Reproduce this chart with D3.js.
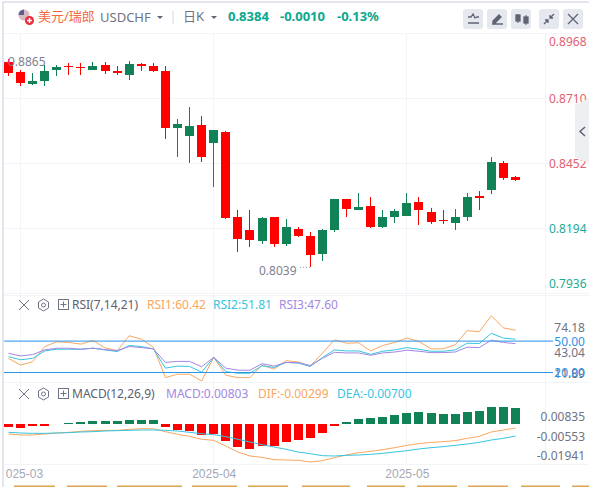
<!DOCTYPE html>
<html>
<head>
<meta charset="utf-8">
<script src="https://cdn.jsdelivr.net/npm/d3@7"></script>
<style>
  html, body { margin: 0; padding: 0; background: #fff; overflow: hidden; }
  svg { display: block; font-family: "Noto Sans", "Noto Sans CJK SC", sans-serif; }
</style>
</head>
<body>
<div class="canvas"></div>
<script>
// candles, all four in price
const open = [.8854,.8814,.8767,.8779,.8822,.8840,.8836,.8822,.8842,.8818,.8802,.8848,.8838,.8818,.8592,.8560,.8604,.8533,.8576,.8239,.8187,.8143,.8239,.8132,.8191,.8163,.8092,.8187,.8310,.8267,.8283,.8199,.8239,.8243,.8298,.8259,.8225,.8215,.8239,.8322,.8346,.8453,.8398];
const high = [.8865,.8822,.8810,.8842,.8842,.8850,.8850,.8854,.8854,.8838,.8858,.8850,.8850,.8838,.8628,.8676,.8640,.8584,.8580,.8267,.8267,.8239,.8239,.8231,.8199,.8179,.8191,.8310,.8310,.8334,.8318,.8267,.8271,.8334,.8318,.8275,.8267,.8271,.8334,.8342,.8477,.8461,.8402];
const low = [.8799,.8759,.8763,.8759,.8799,.8802,.8802,.8822,.8806,.8802,.8783,.8818,.8814,.8548,.8477,.8453,.8457,.8358,.8231,.8100,.8120,.8132,.8120,.8124,.8159,.8039,.8064,.8179,.8239,.8267,.8195,.8195,.8215,.8243,.8207,.8211,.8211,.8187,.8223,.8267,.8330,.8386,.8382];
const close = [.8810,.8771,.8779,.8818,.8834,.8838,.8834,.8838,.8818,.8810,.8846,.8840,.8818,.8592,.8608,.8600,.8477,.8584,.8235,.8151,.8147,.8235,.8132,.8199,.8163,.8088,.8187,.8310,.8271,.8279,.8199,.8239,.8263,.8294,.8267,.8219,.8223,.8239,.8318,.8314,.8457,.8394,.8384];

const rsi1 = [33.5,27.1,30.3,44.8,49.3,48.7,47.1,50.6,43.5,40.9,55.1,51.9,44.2,15.1,18.4,18.4,11.9,34.5,17.4,15.1,15.1,27.1,23.2,31.3,30.0,26.1,38.4,51.3,48.0,48.4,40.6,45.8,48.7,52.9,49.7,42.6,42.6,46.4,60.0,59.0,74.2,62.6,60.4];
const rsi2 = [35.1,32.2,33.5,40.6,42.2,42.2,42.2,43.2,41.6,40.0,45.8,44.8,42.6,24.2,26.1,25.8,20.3,34.5,20.9,19.3,19.3,26.4,24.8,29.6,29.0,25.8,34.2,41.6,40.6,40.6,37.4,40.3,41.6,43.8,42.2,40.3,40.3,41.6,48.0,47.7,57.4,52.9,51.8];
const rsi3 = [38.3,35.8,37.1,41.6,43.2,43.2,42.2,43.2,41.9,40.9,44.8,43.8,42.6,29.6,30.6,30.6,25.5,34.5,24.2,22.2,22.2,28.4,26.1,29.6,29.3,26.7,33.5,39.3,38.7,38.7,36.4,38.7,39.6,41.3,40.3,39.0,39.0,39.6,44.2,43.8,50.9,48.7,47.6];

const macd = [-.00137,-.00205,-.00085,-.00085,.00017,.00034,.0012,.00154,.00137,.00154,.00205,.00205,.00205,-.00137,-.00308,-.00359,-.00547,-.0053,-.00872,-.01179,-.01282,-.01128,-.01128,-.00923,-.00821,-.00718,-.00462,-.00085,.00103,.00256,.00308,.00359,.00462,.00564,.00615,.00564,.00513,.00513,.00615,.00667,.00872,.00872,.00803];
const dif = [-.00513,-.00564,-.00564,-.00513,-.00462,-.00427,-.00376,-.00342,-.00325,-.00325,-.00274,-.00239,-.00239,-.00393,-.0053,-.00632,-.00786,-.00838,-.01128,-.01436,-.01641,-.01709,-.01829,-.01846,-.01863,-.01949,-.0188,-.01726,-.0159,-.0147,-.01402,-.01316,-.01214,-.01094,-.01009,-.0094,-.00906,-.00855,-.00735,-.00632,-.0041,-.00308,-.00205];
const dea = [-.00427,-.00462,-.00479,-.00479,-.00462,-.00444,-.0041,-.00393,-.00359,-.00342,-.00325,-.00308,-.00308,-.00325,-.00359,-.00427,-.00496,-.00547,-.0065,-.00786,-.00923,-.0106,-.01179,-.01299,-.01436,-.01521,-.01624,-.01641,-.01607,-.0159,-.01556,-.01504,-.01436,-.01368,-.01282,-.01214,-.01162,-.01094,-.01026,-.0094,-.00821,-.00735,-.00615];

const priceTicks = [0.8968, 0.8710, 0.8452, 0.8194, 0.7936];
const monthIndex = [1, 17, 33];
const monthLabels = ["2025-03", "2025-04", "2025-05"];
const rsiLevels = [50, 20];

const colors = { up: "#118256", down: "#ff0000", rsi1: "#f9a75f", rsi2: "#35c5e0", rsi3: "#a487e2", grid: "#f3f4f7", text: "#6f7383", level: "#2b93e8" };
const W = 589, H = 487, plotLeft = 4, plotRight = 545;

const svg = d3.select(".canvas").append("svg").attr("width", W).attr("height", H);

const x = d3.scaleLinear().domain([0, 42]).range([8.5, 515.5]);
const yPrice = d3.scaleLinear().domain([0.8452, 0.8194]).range([163.3, 228.3]);
const yRsi = d3.scaleLinear().domain([50, 20]).range([341.1, 372.5]);
const yMacd = d3.scaleLinear().domain([0, -0.01]).range([424, 443.5]);
const snap = (v) => Math.round(v - 0.5) + 0.5;

const defs = svg.append("defs");
defs.append("clipPath").attr("id", "plot")
    .append("rect").attr("x", plotLeft).attr("y", 0).attr("width", plotRight - plotLeft).attr("height", H);
defs.append("clipPath").attr("id", "dates")
    .append("rect").attr("x", 5.5).attr("y", 0).attr("width", plotRight).attr("height", H);

// frame
svg.append("rect").attr("x", 2).attr("y", 1).attr("width", W).attr("height", 2).attr("fill", "#e3e7ed");
svg.append("rect").attr("x", 2).attr("y", 1).attr("width", 2).attr("height", H).attr("fill", "#e3e7ed");

// grid
const grid = svg.append("g").attr("stroke", colors.grid).attr("shape-rendering", "crispEdges");
grid.selectAll("line.h").data(priceTicks).join("line")
    .attr("x1", plotLeft).attr("x2", W)
    .attr("y1", (d) => yPrice(d)).attr("y2", (d) => yPrice(d));
grid.selectAll("line.p").data([295, 382, 464]).join("line").attr("class", "p")
    .attr("x1", plotLeft).attr("x2", W).attr("y1", (d) => d).attr("y2", (d) => d);
grid.selectAll("line.v").data(monthIndex).join("line").attr("class", "v")
    .attr("x1", (d) => snap(x(d))).attr("x2", (d) => snap(x(d))).attr("y1", 33).attr("y2", 464);
grid.append("line").attr("x1", plotRight).attr("x2", plotRight).attr("y1", 33).attr("y2", 464);

const plot = svg.append("g").attr("clip-path", "url(#plot)");

// candles
const candles = plot.append("g").attr("shape-rendering", "crispEdges")
    .selectAll("g").data(d3.range(open.length)).join("g")
    .attr("fill", (i) => (close[i] < open[i] ? colors.down : colors.up));
candles.append("rect")
    .attr("x", (i) => snap(x(i)) - 0.5).attr("width", 1)
    .attr("y", (i) => yPrice(high[i]))
    .attr("height", (i) => yPrice(low[i]) - yPrice(high[i]));
candles.append("rect")
    .attr("x", (i) => snap(x(i)) - 4.5).attr("width", 9)
    .attr("y", (i) => yPrice(Math.max(open[i], close[i])))
    .attr("height", (i) => Math.max(1, Math.abs(yPrice(open[i]) - yPrice(close[i]))));

// high / low notes
svg.append("text").attr("x", 8).attr("y", 66).attr("font-size", 12).attr("fill", "#7d8191").text("0.8865");
svg.append("text").attr("x", 259).attr("y", 275).attr("font-size", 12).attr("fill", "#7d8191").text("0.8039");
svg.append("line").attr("x1", 300).attr("x2", 310).attr("y1", yPrice(0.8039)).attr("y2", yPrice(0.8039))
    .attr("stroke", "#9a9daa").attr("stroke-dasharray", "1,2");
svg.append("line").attr("x1", 4).attr("x2", 8).attr("y1", 62).attr("y2", 62)
    .attr("stroke", "#9a9daa").attr("stroke-dasharray", "1,2");

// price labels, the outer two are pushed inside the pane
svg.append("g").selectAll("text").data(priceTicks).join("text")
    .attr("x", 549)
    .attr("y", (d) => Math.min(288, Math.max(46, yPrice(d) + 5)))
    .attr("font-size", 12)
    .attr("fill", (d) => (d > 0.84 ? "#e2606f" : "#1eab95"))
    .text((d) => d.toFixed(4));

// rsi pane
const rsiLine = d3.line().x((d, i) => x(i)).y((d) => yRsi(d));
plot.append("g").selectAll("path").data([[rsi1, colors.rsi1], [rsi2, colors.rsi2], [rsi3, colors.rsi3]]).join("path")
    .attr("d", (d) => rsiLine(d[0])).attr("fill", "none").attr("stroke", (d) => d[1]);
svg.append("g").selectAll("line").data(rsiLevels).join("line")
    .attr("x1", plotLeft).attr("x2", 553)
    .attr("y1", (d) => yRsi(d)).attr("y2", (d) => yRsi(d))
    .attr("stroke", colors.level);

const rsiLabels = [["74.18", 332, colors.text], ["43.04", 356.5, colors.text], ["11.89", 378, colors.text], ["50.00", 346, colors.level], ["20.00", 377, colors.level]];
svg.append("g").selectAll("text").data(rsiLabels).join("text")
    .attr("x", 585).attr("y", (d) => d[1]).attr("text-anchor", "end")
    .attr("font-size", 12).attr("fill", (d) => d[2]).text((d) => d[0]);

// macd pane
plot.append("g").attr("shape-rendering", "crispEdges")
    .selectAll("rect").data(macd).join("rect")
    .attr("x", (d, i) => snap(x(i)) - 4.5).attr("width", 9)
    .attr("y", (d) => Math.min(yMacd(d), yMacd(0)))
    .attr("height", (d) => Math.max(0.6, Math.abs(yMacd(d) - yMacd(0))))
    .attr("fill", (d) => (d < 0 ? colors.down : colors.up));
const macdLine = d3.line().x((d, i) => x(i)).y((d) => yMacd(d));
plot.append("g").selectAll("path").data([[dif, colors.rsi1], [dea, colors.rsi2]]).join("path")
    .attr("d", (d) => macdLine(d[0])).attr("fill", "none").attr("stroke", (d) => d[1]);

const macdLabels = [["0.00835", 421], ["-0.00553", 441], ["-0.01941", 460]];
svg.append("g").selectAll("text").data(macdLabels).join("text")
    .attr("x", 585).attr("y", (d) => d[1]).attr("text-anchor", "end")
    .attr("font-size", 12).attr("fill", colors.text).text((d) => d[0]);

// dates
const dateAxis = d3.axisBottom(x).tickValues(monthIndex)
    .tickFormat((d, i) => monthLabels[i]).tickSize(0).tickPadding(5);
const dateG = svg.append("g").attr("clip-path", "url(#dates)")
    .append("g").attr("transform", "translate(0,464)").call(dateAxis);
dateG.select(".domain").remove();
dateG.selectAll("text").attr("font-size", 12).attr("font-family", "inherit").attr("fill", "#a5a8b5");

// strip at the bottom edge
const stripes = [[14, 55], [67, 107], [117, 182], [192, 237], [248, 288], [302, 350], [367, 405], [417, 457], [468, 508], [521, 560], [572, 589]];
svg.append("g").selectAll("rect").data(stripes).join("rect")
    .attr("x", (d) => d[0]).attr("y", 485.5).attr("width", (d) => d[1] - d[0]).attr("height", 1.5)
    .attr("fill", "#dca552");

// header
const label = (px, py, str, fill, size = 12, weight = 400) => svg.append("text")
    .attr("x", px).attr("y", py).attr("fill", fill).attr("font-size", size).attr("font-weight", weight).text(str);
const caret = (px, py) => svg.append("path").attr("d", `M${px},${py}h6l-3,3z`).attr("fill", "#5f6475");

// flag
svg.append("circle").attr("cx", 24).attr("cy", 15).attr("r", 5.5).attr("fill", "#d9b8c0");
svg.append("path").attr("d", "M18.5,15a5.5,5.5 0 0 1 5.5,-5.5v5.5z").attr("fill", "#5a5f90");
svg.append("circle").attr("cx", 29.5).attr("cy", 20.5).attr("r", 4.5).attr("fill", "#ea2b3b");
svg.append("path").attr("d", "M27,20.5h5M29.5,18v5").attr("stroke", "#fff").attr("stroke-width", 1.5);

label(38, 21, "美元/瑞郎", "#f26a3f", 13);
label(100, 22, "USDCHF", colors.text, 13);
caret(157, 16);
svg.append("line").attr("x1", 173).attr("x2", 173).attr("y1", 11).attr("y2", 24).attr("stroke", "#d5d8df");
label(183, 21, "日K", colors.text, 13);
caret(211, 16);
label(228, 21, "0.8384", "#0aa88e", 13, 700);
label(280, 21, "-0.0010", "#0aa88e", 13, 700);
label(337, 21, "-0.13%", "#0aa88e", 13, 700);

// toolbar buttons
const buttons = [463, 487, 511, 539, 563];
svg.append("g").selectAll("rect").data(buttons).join("rect")
    .attr("x", (d) => d).attr("y", 9).attr("width", 20).attr("height", 20).attr("rx", 3)
    .attr("fill", "#e6e8ef");
const icons = svg.append("g").attr("fill", "none").attr("stroke", "#5f6475").attr("stroke-width", 1.3);
icons.append("path").attr("d", "M468,17h3l2,-3l2,4l2,-1h2M468,23h11");
icons.append("path").attr("d", "M492,24h11M493,21l6,-6l2,2l-6,6h-2z").attr("fill", "#5f6475");
icons.append("path").attr("d", "M518,14v9M526,15v10").attr("stroke-width", 1);
icons.append("rect").attr("x", 516).attr("y", 15).attr("width", 4).attr("height", 6).attr("fill", "#5f6475");
icons.append("rect").attr("x", 524).attr("y", 17).attr("width", 4).attr("height", 6).attr("fill", "#5f6475");
icons.append("path").attr("d", "M544,24l4,-4M554,14l-4,4M545,20h3v3M553,18h-3v-3");
icons.append("path").attr("d", "M568,14l10,10M578,14l-10,10");

// collapse tab at right edge
svg.append("path").attr("d", "M575,105L589,98V163L575,157Z").attr("fill", "#eeeff3");
svg.append("path").attr("d", "M585,127l-5,4.5l5,4.5").attr("fill", "none").attr("stroke", "#5f6475").attr("stroke-width", 1.5);

// pane headers
const paneHeader = (py, title, titleX, items) => {
    const g = svg.append("g").attr("fill", "none").attr("stroke", "#6f7383");
    g.append("path").attr("d", `M19,${py - 5}l10,10M29,${py - 5}l-10,10`);
    g.append("path").attr("d", `M43.5,${py - 6}l5,3v6l-5,3l-5,-3v-6z`);
    g.append("circle").attr("cx", 43.5).attr("cy", py).attr("r", 2);
    g.append("rect").attr("x", 58.5).attr("y", py - 5.5).attr("width", 10).attr("height", 10);
    g.append("path").attr("d", `M60.5,${py - 0.5}h6M63.5,${py - 3.5}v6`);
    label(titleX, py + 4, title, "#5c6070", 12);
    items.forEach((d) => label(d[0], py + 4, d[1], d[2], 12));
};
paneHeader(305, "RSI(7,14,21)", 72, [[147, "RSI1:60.42", colors.rsi1], [213, "RSI2:51.81", colors.rsi2], [279, "RSI3:47.60", colors.rsi3]]);
paneHeader(394, "MACD(12,26,9)", 72, [[166, "MACD:0.00803", colors.rsi3], [258, "DIF:-0.00299", colors.rsi1], [337, "DEA:-0.00700", colors.rsi2]]);
</script>
</body>
</html>
